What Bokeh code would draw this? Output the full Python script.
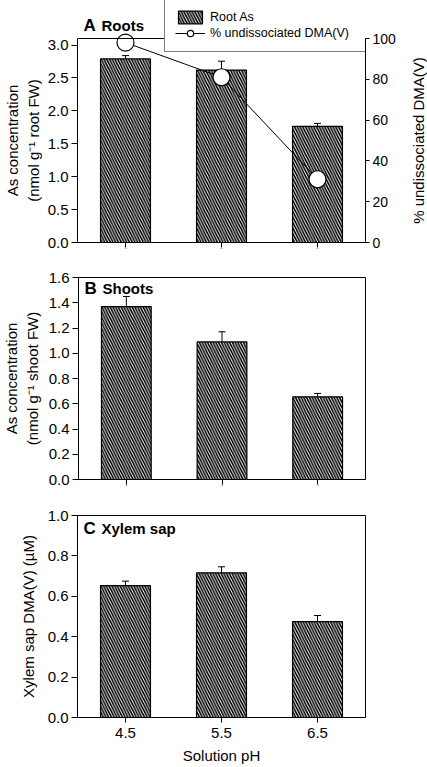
import math
from bokeh.plotting import figure
from bokeh.layouts import column, row
from bokeh.models import (ColumnDataSource, FactorRange, Range1d, LinearAxis, FixedTicker,
                          NumeralTickFormatter, Whisker, TeeHead, Legend, LegendItem, Label, Span)
from bokeh.embed import file_html
from bokeh.resources import INLINE

ph = ["4.5", "5.5", "6.5"]
root_as = [2.79, 2.62, 1.765]
root_err = [0.05, 0.135, 0.045]
pct_undiss = [98, 81, 31]
shoot_as = [1.37, 1.09, 0.655]
shoot_err = [0.08, 0.08, 0.027]
xylem = [0.653, 0.716, 0.475]
xylem_err = [0.022, 0.03, 0.03]

FONT = "Liberation Sans"
W = 427
LB, RB = 77, 62
FH = 202


def style_yaxis(ya, ticks, lab_standoff, label=None):
    ya.ticker = FixedTicker(ticks=ticks)
    ya.formatter = NumeralTickFormatter(format="0.0")
    ya.minor_tick_line_color = None
    ya.major_tick_out = 6
    ya.major_tick_in = 0
    ya.major_label_standoff = 3
    ya.major_label_text_font = FONT
    ya.major_label_text_font_size = "15px"
    ya.major_label_text_color = "black"
    if label is not None:
        ya.axis_label = label
    ya.axis_label_text_font = FONT
    ya.axis_label_text_font_size = "15px"
    ya.axis_label_text_font_style = "normal"
    ya.axis_label_text_color = "black"
    ya.axis_label_standoff = lab_standoff
    ya.axis_label_text_line_height = 1.2
    ya.axis_line_color = "black"


def make_panel(vals, errs, yrange, yticks, ylabel, width, fh, lb, rb, top_b, bot_b,
               show_x, lab_standoff):
    p = figure(x_range=FactorRange(factors=ph), y_range=yrange,
               width=width, height=top_b + fh + bot_b,
               min_border_left=lb, min_border_right=rb,
               min_border_top=top_b, min_border_bottom=bot_b,
               output_backend="svg", toolbar_location=None)
    p.frame_align = False
    p.grid.visible = False
    p.outline_line_color = "black"
    p.outline_line_width = 1
    p.background_fill_color = "white"
    p.border_fill_color = "white"
    src = ColumnDataSource(dict(ph=ph, top=vals, up=[v + e for v, e in zip(vals, errs)]))
    bars = p.vbar(x="ph", top="top", width=0.52, source=src, fill_color="white",
                  line_color="black", line_width=1.2, hatch_pattern="\\", hatch_scale=5.5,
                  hatch_weight=1.6, hatch_color="black")
    wh = Whisker(source=src, base="ph", upper="up", lower="top", dimension="height",
                 upper_head=TeeHead(size=7, line_width=1, line_color="black"),
                 lower_head=None, line_width=1, line_color="black")
    p.add_layout(wh)
    style_yaxis(p.yaxis[0], yticks, lab_standoff, ylabel)
    xa = p.xaxis[0]
    xa.major_tick_out = 5
    xa.major_tick_in = 0
    xa.axis_line_color = "black"
    if show_x:
        xa.major_label_text_font = FONT
        xa.major_label_text_font_size = "15px"
        xa.major_label_text_color = "black"
        xa.major_label_standoff = 5
        xa.axis_label = "Solution pH"
        xa.axis_label_text_font = FONT
        xa.axis_label_text_font_size = "15px"
        xa.axis_label_text_font_style = "normal"
        xa.axis_label_text_color = "black"
        xa.axis_label_text_baseline = "top"
        xa.axis_label_standoff = 6
    else:
        xa.major_label_overrides = {f: "" for f in ph}
        xa.major_label_standoff = 0
        xa.major_label_text_font_size = "2px"
    return p, bars, src


def label_strip(width, text, top_b, fh, bot_b):
    """A narrow figure whose only content is a vertical axis title (reads bottom to top)."""
    s = figure(width=width, height=top_b + fh + bot_b, x_axis_type=None,
               x_range=Range1d(0, 1), y_range=Range1d(0, 1),
               min_border_left=width - 1, min_border_right=0,
               min_border_top=top_b, min_border_bottom=bot_b,
               output_backend="svg", toolbar_location=None)
    s.frame_align = False
    s.grid.visible = False
    s.outline_line_color = None
    s.background_fill_color = "white"
    s.border_fill_color = "white"
    ya = s.yaxis[0]
    ya.ticker = FixedTicker(ticks=[])
    ya.major_tick_out = 0
    ya.major_tick_in = 0
    ya.minor_tick_line_color = None
    ya.major_label_standoff = 0
    ya.axis_line_color = None
    ya.axis_label = text
    ya.axis_label_text_font = FONT
    ya.axis_label_text_font_size = "15px"
    ya.axis_label_text_font_style = "normal"
    ya.axis_label_text_color = "black"
    ya.axis_label_standoff = 0
    ya.axis_label_text_line_height = 1.2
    return s


def add_title(p, letter, word, yoff):
    p.add_layout(Label(x=6, y=yoff, x_units="screen", y_units="screen", text=letter,
                       text_font=FONT, text_font_size="17px", text_font_style="bold",
                       text_baseline="middle", text_color="black"))
    p.add_layout(Label(x=24, y=yoff, x_units="screen", y_units="screen", text=word,
                       text_font=FONT, text_font_size="15px", text_font_style="bold",
                       text_baseline="middle", text_color="black"))


# ---------------- Panel A ----------------
A_FH = 242          # frame reaches the figure top so legend/title are not clipped
A_DATA = 204        # height of the boxed data area
A_BOT = 14
A_TOP = 3.1
A_PCT_TOP = 100
ext = A_FH / A_DATA
ALW, ARW = 42, 29                   # widths of the axis-title strips
A_LB = LB - ALW
A_RB = 33
A_W = A_LB + 288 + A_RB

pAL = label_strip(ALW, "As concentration\n(nmol g\u207b\u00b9 root FW)",
                  A_FH - A_DATA, A_DATA, A_BOT)
pAR = label_strip(ARW, "% undissociated DMA(V)", A_FH - A_DATA, A_DATA, A_BOT)

pA, barsA, srcA = make_panel(root_as, root_err, Range1d(0, A_TOP * ext),
                             [0, 0.5, 1.0, 1.5, 2.0, 2.5, 3.0], None,
                             A_W, A_FH, A_LB, A_RB, 0, A_BOT, False, 0)
pA.outline_line_color = None
pA.yaxis[0].bounds = (0, A_TOP)
pA.add_layout(Span(location=A_TOP, dimension="width", line_color="black", line_width=1))
pA.extra_y_ranges = {"pct": Range1d(0, A_PCT_TOP * ext)}
ra = LinearAxis(y_range_name="pct", ticker=FixedTicker(ticks=[0, 20, 40, 60, 80, 100]),
                bounds=(0, A_PCT_TOP))
ra.minor_tick_line_color = None
ra.major_tick_out = 4
ra.major_tick_in = 0
ra.major_label_standoff = 3
ra.major_label_text_font = FONT
ra.major_label_text_font_size = "14px"
ra.major_label_text_color = "black"
ra.axis_line_color = "black"
pA.add_layout(ra, "right")
lineA = pA.line(x=ph, y=pct_undiss, y_range_name="pct", line_color="black", line_width=1)
scatA = pA.scatter(x=ph, y=pct_undiss, y_range_name="pct", size=17, fill_color="white",
                   line_color="black", line_width=1.2)
leg = Legend(items=[LegendItem(label="Root As", renderers=[barsA]),
                    LegendItem(label="% undissociated DMA(V)", renderers=[lineA, scatA])],
             location=(87, 190), border_line_color="black", border_line_width=1,
             background_fill_color="white", background_fill_alpha=1.0,
             padding=10, spacing=0, glyph_width=30, glyph_height=16, label_height=16,
             label_width=148, label_standoff=5, margin=0,
             label_text_font=FONT, label_text_font_size="12.5px", label_text_color="black")
pA.add_layout(leg)
add_title(pA, "A", "Roots", A_FH - 25)

# ---------------- Panel B ----------------
pB, _, _ = make_panel(shoot_as, shoot_err, Range1d(0, 1.6),
                      [0, 0.2, 0.4, 0.6, 0.8, 1.0, 1.2, 1.4, 1.6],
                      "As concentration\n(nmol g\u207b\u00b9 shoot FW)",
                      W, FH, LB, RB, 21, 14, False, 5)
add_title(pB, "B", "Shoots", FH - 11)

# ---------------- Panel C ----------------
pC, _, _ = make_panel(xylem, xylem_err, Range1d(0, 1.0), [0, 0.2, 0.4, 0.6, 0.8, 1.0],
                      "Xylem sap DMA(V) (\u00b5M)", W, FH, LB, RB, 22, 50, True, 8)
add_title(pC, "C", "Xylem sap", FH - 13)

rowA = row(pAL, pA, pAR, spacing=0)
layout = column(rowA, pB, pC, spacing=0)
open("out.html", "w").write(file_html(layout, INLINE))
